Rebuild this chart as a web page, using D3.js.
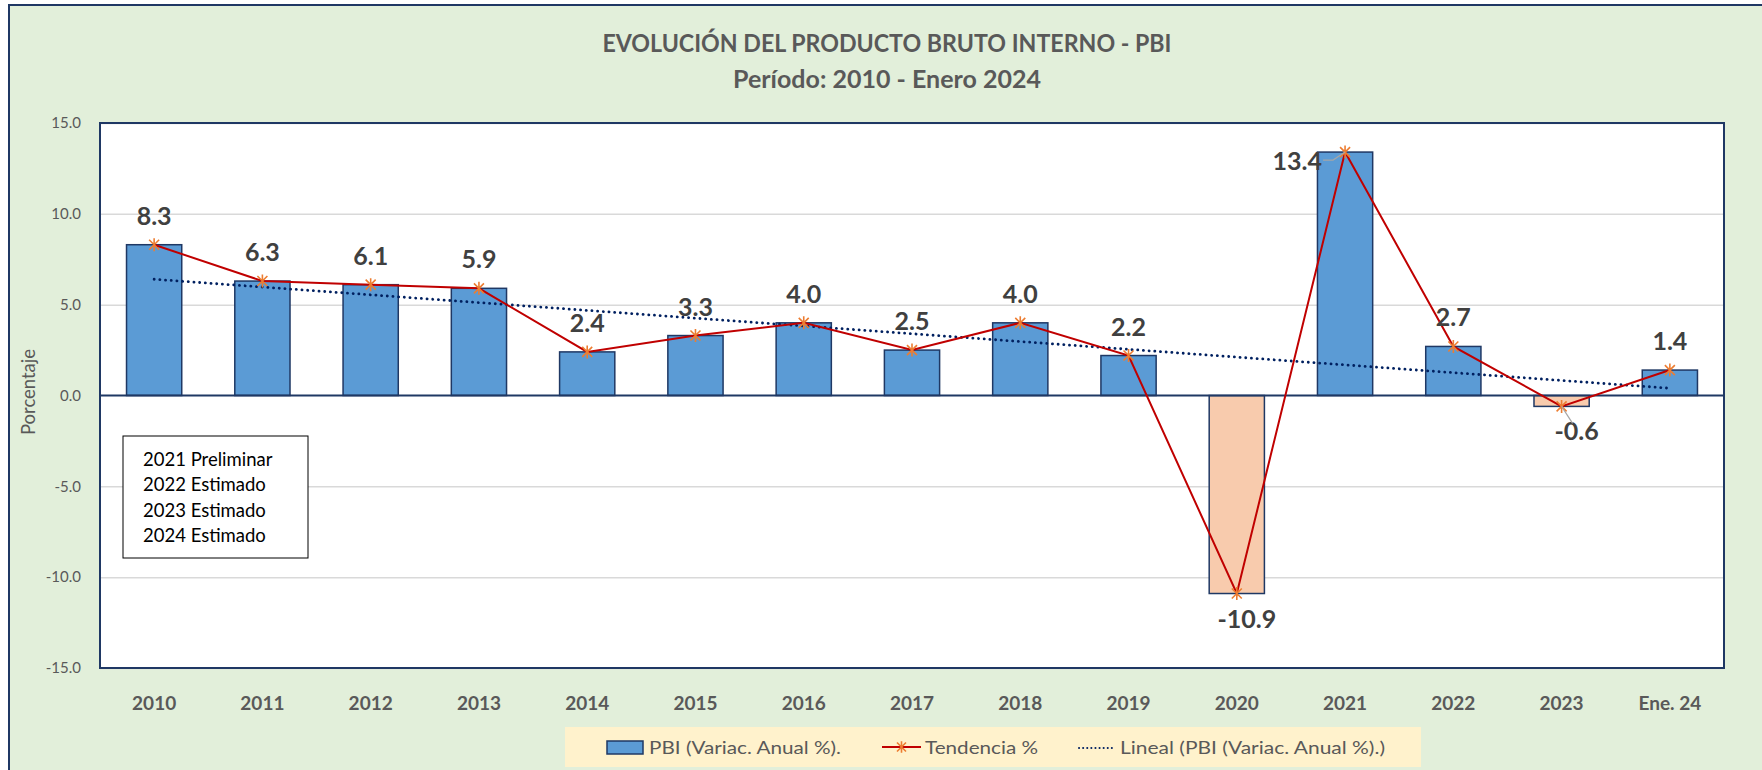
<!DOCTYPE html>
<meta charset="utf-8">
<style>
  body { margin: 0; background: #fff; }
  text { font-family: Lato, "Open Sans", sans-serif; }
</style>
<script src="https://d3js.org/d3.v7.min.js"></script>
<div id="my_dataviz"></div>
<script>

// data
var categories = ["2010", "2011", "2012", "2013", "2014", "2015", "2016", "2017",
                  "2018", "2019", "2020", "2021", "2022", "2023", "Ene. 24"];
var pbiValues = [8.3, 6.3, 6.1, 5.9, 2.4, 3.3, 4.0, 2.5, 4.0, 2.2, -10.9, 13.4, 2.7, -0.6, 1.4];
// linear trendline, start and end value
var trendEnds = [6.4, 0.4];
var yTicks = [-15, -10, -5, 0, 5, 10, 15];
var notes = ["2021 Preliminar", "2022 Estimado", "2023 Estimado", "2024 Estimado"];
var legendLabels = ["PBI (Variac. Anual %).", "Tendencia %", "Lineal (PBI (Variac. Anual %).)"];
// where a value label goes when it is not above the point
var labelPlace = {"2020": "below", "2021": "left", "2023": "below"};

var W = 1762, H = 770;
var plot = {left: 100, right: 1724, top: 123, bottom: 668};

// one decimal, plain hyphen for negatives (like the original)
var fmt = function(d) { return d.toFixed(1); };

var svg = d3.select("#my_dataviz")
  .append("svg")
    .attr("width", W)
    .attr("height", H);

// chart area background + border
svg.append("rect")
  .attr("x", 9).attr("y", 5)
  .attr("width", W).attr("height", H)
  .attr("fill", "#E2EFDA")
  .attr("stroke", "#1F3864").attr("stroke-width", 2);

// titles
svg.append("text")
  .attr("x", 887).attr("y", 52)
  .attr("text-anchor", "middle")
  .attr("font-size", 25).attr("font-weight", "bold")
  .attr("fill", "#595959")
  .attr("textLength", 569).attr("lengthAdjust", "spacingAndGlyphs")
  .text("EVOLUCIÓN DEL PRODUCTO BRUTO INTERNO - PBI");
svg.append("text")
  .attr("x", 887).attr("y", 88)
  .attr("text-anchor", "middle")
  .attr("font-size", 24).attr("font-weight", "bold")
  .attr("fill", "#595959")
  .attr("textLength", 308).attr("lengthAdjust", "spacingAndGlyphs")
  .text("Período: 2010 - Enero 2024");

// scales
var x = d3.scaleBand()
  .domain(categories)
  .range([plot.left, plot.right])
  .paddingInner(0.49)
  .paddingOuter(0.245);

var y = d3.scaleLinear()
  .domain([-15, 15])
  .range([plot.bottom, plot.top]);

// plot area
svg.append("rect")
  .attr("x", plot.left).attr("y", plot.top)
  .attr("width", plot.right - plot.left).attr("height", plot.bottom - plot.top)
  .attr("fill", "#fff");

// gridlines
var grid = svg.append("g")
  .attr("transform", "translate(" + plot.left + ",0)")
  .call(d3.axisLeft(y).tickValues(yTicks.filter(function(d) { return d !== 0; }))
    .tickSize(-(plot.right - plot.left)).tickFormat(""));
grid.select(".domain").remove();
grid.selectAll("line").attr("stroke", "#D9D9D9").attr("stroke-width", 1.5);

// y axis labels
var yAxis = svg.append("g")
  .attr("transform", "translate(" + (plot.left - 16) + ",0)")
  .call(d3.axisLeft(y).tickValues(yTicks).tickSize(0).tickFormat(fmt));
yAxis.select(".domain").remove();
yAxis.selectAll("text")
  .attr("font-family", "Lato, sans-serif")
  .attr("font-size", 15)
  .attr("fill", "#595959");

svg.append("text")
  .attr("transform", "translate(35,392) rotate(-90)")
  .attr("text-anchor", "middle")
  .attr("font-size", 18.5)
  .attr("fill", "#595959")
  .attr("textLength", 86).attr("lengthAdjust", "spacingAndGlyphs")
  .text("Porcentaje");

// bars
svg.selectAll(".bar")
  .data(pbiValues)
  .enter()
  .append("rect")
    .attr("class", "bar")
    .attr("x", function(d, i) { return x(categories[i]); })
    .attr("y", function(d) { return y(Math.max(0, d)); })
    .attr("width", x.bandwidth())
    .attr("height", function(d) { return Math.abs(y(d) - y(0)); })
    .attr("fill", function(d) { return d < 0 ? "#F8CBAD" : "#5B9BD5"; })
    .attr("stroke", "#1F3864")
    .attr("stroke-width", 1.5);

// zero line
svg.append("line")
  .attr("x1", plot.left).attr("x2", plot.right)
  .attr("y1", y(0)).attr("y2", y(0))
  .attr("stroke", "#1F3864").attr("stroke-width", 2);

// plot frame
svg.append("rect")
  .attr("x", plot.left).attr("y", plot.top)
  .attr("width", plot.right - plot.left).attr("height", plot.bottom - plot.top)
  .attr("fill", "none")
  .attr("stroke", "#1F3864").attr("stroke-width", 2);

var cx = function(i) { return x(categories[i]) + x.bandwidth() / 2; };

// linear trend (dotted)
svg.append("line")
  .attr("x1", cx(0)).attr("y1", y(trendEnds[0]))
  .attr("x2", cx(categories.length - 1)).attr("y2", y(trendEnds[1]))
  .attr("stroke", "#002060")
  .attr("stroke-width", 2.8)
  .attr("stroke-linecap", "round")
  .attr("stroke-dasharray", "0.1 5.6");

// tendencia line
var line = d3.line()
  .x(function(d, i) { return cx(i); })
  .y(function(d) { return y(d); });

svg.append("path")
  .datum(pbiValues)
  .attr("d", line)
  .attr("fill", "none")
  .attr("stroke", "#C00000")
  .attr("stroke-width", 2);

function star(g, px, py, r) {
  g.append("path")
    .attr("d", "M" + (px - r) + "," + (py - r) + "L" + (px + r) + "," + (py + r) +
               "M" + (px - r) + "," + (py + r) + "L" + (px + r) + "," + (py - r) +
               "M" + px + "," + (py - r * 1.3) + "L" + px + "," + (py + r * 1.3))
    .attr("stroke", "#ED7D31")
    .attr("stroke-width", 1.6)
    .attr("fill", "none");
}

var markers = svg.append("g");
pbiValues.forEach(function(d, i) { star(markers, cx(i), y(d), 5); });

// value labels
var labels = svg.append("g");
pbiValues.forEach(function(d, i) {
  var place = labelPlace[categories[i]] || "above";
  var px = cx(i), py = y(d);
  var t = labels.append("text")
    .attr("font-size", 25).attr("font-weight", "bold")
    .attr("fill", "#404040")
    .text(fmt(d));
  if (place === "above") {
    t.attr("x", px).attr("y", py - 20).attr("text-anchor", "middle");
  } else if (place === "below") {
    var dx = categories[i] === "2023" ? 15 : 10;
    t.attr("x", px + dx).attr("y", py + 34).attr("text-anchor", "middle");
    if (categories[i] === "2023") {
      labels.append("line")
        .attr("x1", px).attr("y1", py)
        .attr("x2", px + 11).attr("y2", py + 17)
        .attr("stroke", "#A6A6A6").attr("stroke-width", 1.2);
    }
  } else {
    t.attr("x", px - 23).attr("y", py + 18).attr("text-anchor", "end");
    labels.append("path")
      .attr("d", "M" + (px - 22) + "," + (py + 8) + "L" + (px - 12) + "," + (py + 8) + "L" + px + "," + py)
      .attr("fill", "none")
      .attr("stroke", "#A6A6A6").attr("stroke-width", 1.2);
  }
});

// x axis labels
var xAxis = svg.append("g")
  .attr("transform", "translate(0," + (plot.bottom + 32) + ")")
  .call(d3.axisBottom(x).tickSize(0));
xAxis.select(".domain").remove();
xAxis.selectAll("text")
  .attr("font-family", "Lato, sans-serif")
  .attr("font-size", 19).attr("font-weight", "bold")
  .attr("fill", "#595959")
  .attr("dy", "0.35em");

// notes box
var nb = svg.append("g");
nb.append("rect")
  .attr("x", 123).attr("y", 436)
  .attr("width", 185).attr("height", 122)
  .attr("fill", "#fff")
  .attr("stroke", "#000").attr("stroke-width", 1);
nb.selectAll("text")
  .data(notes)
  .enter()
  .append("text")
    .attr("x", 143)
    .attr("y", function(d, i) { return 466 + i * 25.3; })
    .attr("font-size", 18.5)
    .attr("fill", "#000")
    .text(function(d) { return d; });

// legend
var lg = svg.append("g");
lg.append("rect")
  .attr("x", 565).attr("y", 727)
  .attr("width", 856).attr("height", 40)
  .attr("fill", "#FFF2CC");
lg.append("rect")
  .attr("x", 607).attr("y", 741)
  .attr("width", 36).attr("height", 13)
  .attr("fill", "#5B9BD5").attr("stroke", "#1F3864").attr("stroke-width", 1.5);
lg.append("line")
  .attr("x1", 882).attr("x2", 921).attr("y1", 747).attr("y2", 747)
  .attr("stroke", "#C00000").attr("stroke-width", 2);
star(lg, 901.5, 747, 4.5);
lg.append("line")
  .attr("x1", 1079).attr("x2", 1114).attr("y1", 748).attr("y2", 748)
  .attr("stroke", "#002060").attr("stroke-width", 2)
  .attr("stroke-linecap", "round")
  .attr("stroke-dasharray", "0.1 4");
var legendX = [649, 925, 1120];
var legendW = [192, 113, 265];
lg.selectAll(".lt")
  .data(legendLabels)
  .enter()
  .append("text")
    .attr("class", "lt")
    .attr("x", function(d, i) { return legendX[i]; })
    .attr("y", 754)
    .attr("font-size", 18)
    .attr("fill", "#595959")
    .attr("textLength", function(d, i) { return legendW[i]; })
    .attr("lengthAdjust", "spacingAndGlyphs")
    .text(function(d) { return d; });

</script>
</body>
</html>
